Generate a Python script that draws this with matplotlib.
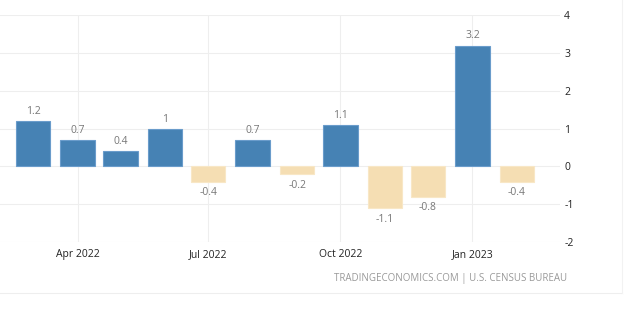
import datetime as dt
import matplotlib
matplotlib.use("Agg")
import matplotlib.pyplot as plt
from matplotlib.lines import Line2D

months = [dt.date(2022, m, 1) for m in range(3, 13)] + [dt.date(2023, 1, 1), dt.date(2023, 2, 1)]
values = [1.2, 0.7, 0.4, 1.0, -0.4, 0.7, -0.2, 1.1, -1.1, -0.8, 3.2, -0.4]
labels = ["1.2", "0.7", "0.4", "1", "-0.4", "0.7", "-0.2", "1.1", "-1.1", "-0.8", "3.2", "-0.4"]
xticks = [dt.date(2022, 4, 1), dt.date(2022, 7, 1), dt.date(2022, 10, 1), dt.date(2023, 1, 1)]
xticklabels = ["Apr 2022", "Jul 2022", "Oct 2022", "Jan 2023"]
yticks = [-2, -1, 0, 1, 2, 3, 4]

plt.rcParams['font.family'] = ['Open Sans', 'DejaVu Sans']

fig = plt.figure(figsize=(6.4, 3.36), dpi=100)
ax = fig.add_axes([0.0, 0.280, 0.875, 0.674])

colors = ['#4682b4' if v >= 0 else '#f5deb3' for v in values]
edges = ['#6a9ccb' if v >= 0 else '#f8e7c6' for v in values]
ax.bar(months, values, width=24, color=colors, edgecolor=edges, linewidth=0.8, zorder=3)

for d, v, t in zip(months, values, labels):
    if v >= 0:
        ax.annotate(t, (d, v), xytext=(0, 3), textcoords='offset points',
                    ha='center', va='bottom', fontsize=7.5, color='#777777')
    else:
        ax.annotate(t, (d, v), xytext=(0, -4), textcoords='offset points',
                    ha='center', va='top', fontsize=7.5, color='#777777')

ax.set_xlim(dt.date(2022, 2, 6), dt.date(2023, 3, 3))
ax.set_ylim(-2, 4)
ax.set_yticks(yticks)
ax.set_yticklabels([str(y) for y in yticks])
ax.set_xticks(xticks)
ax.set_xticklabels(xticklabels)
ax.yaxis.tick_right()
ax.tick_params(axis='y', length=0, pad=3, labelsize=7.5, labelcolor='#222222')
ax.tick_params(axis='x', length=0, pad=5, labelsize=7.5, labelcolor='#222222')
for s in ax.spines.values():
    s.set_visible(False)
ax.grid(True, color='#eeeeee', linewidth=0.8, zorder=0)

fig.text(0.886, 0.170, "TRADINGECONOMICS.COM | U.S. CENSUS BUREAU", ha='right', va='center',
         fontsize=7.0, color='#999999')

fig.add_artist(Line2D([0, 622 / 640], [1 - 293 / 336, 1 - 293 / 336], color='#eeeeee', linewidth=0.8))
fig.add_artist(Line2D([622 / 640, 622 / 640], [1 - 293 / 336, 1.0], color='#f2f2f2', linewidth=0.8))

fig.savefig("out.png", dpi=100)
